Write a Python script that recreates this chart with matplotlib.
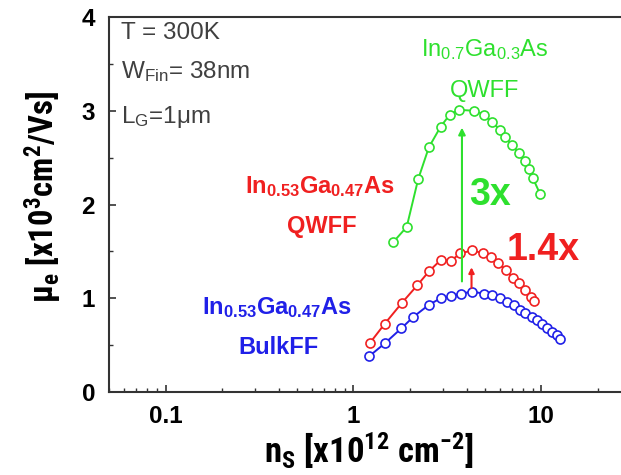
import matplotlib
matplotlib.use("Agg")
import matplotlib.pyplot as plt
from matplotlib import font_manager as fm
import numpy as np

names = {f.name for f in fm.fontManager.ttflist}
FONT = 'Liberation Sans'
COND = 'Roboto Condensed' if 'Roboto Condensed' in names else FONT
plt.rcParams['font.family'] = [FONT, 'DejaVu Sans']
plt.rcParams['mathtext.fontset'] = 'custom'
plt.rcParams['mathtext.default'] = 'regular'
plt.rcParams['mathtext.rm'] = FONT
plt.rcParams['mathtext.it'] = FONT + ':italic'
plt.rcParams['mathtext.bf'] = FONT + ':bold'

# ---- data ----
green_ns = [1.63, 1.92, 2.21, 2.52, 2.91, 3.26, 3.64, 4.37, 4.98, 5.47, 6.0, 6.44, 6.98, 7.57, 8.15, 8.56, 9.02, 9.86]
green_mu = [1.60, 1.76, 2.27, 2.61, 2.83, 2.96, 3.01, 3.00, 2.96, 2.88, 2.80, 2.72, 2.63, 2.55, 2.46, 2.38, 2.28, 2.11]

red_ns = [1.22, 1.47, 1.81, 2.19, 2.53, 2.92, 3.30, 3.71, 4.30, 4.90, 5.40, 5.90, 6.45, 7.05, 7.60, 8.20, 8.85, 9.10]
red_mu = [0.52, 0.73, 0.95, 1.14, 1.29, 1.41, 1.40, 1.48, 1.51, 1.48, 1.44, 1.38, 1.30, 1.22, 1.16, 1.09, 1.01, 0.97]

blue_ns = [1.21, 1.47, 1.80, 2.08, 2.52, 2.91, 3.29, 3.72, 4.29, 4.94, 5.47, 6.05, 6.57, 7.12, 7.66, 8.22, 8.91, 9.48, 10.07, 10.7, 11.4, 12.1, 12.6]
blue_mu = [0.38, 0.52, 0.68, 0.80, 0.93, 1.00, 1.02, 1.05, 1.07, 1.05, 1.03, 1.00, 0.96, 0.93, 0.88, 0.84, 0.80, 0.77, 0.73, 0.68, 0.64, 0.61, 0.57]

x_ticks = [0.1, 1, 10]
x_ticklabels = ['0.1', '1', '10']
y_ticks = [0, 1, 2, 3, 4]

GREEN = '#2ee02e'
RED = '#f02020'
BLUE = '#2020e8'
GRAY = '#404040'

fig = plt.figure(figsize=(6.21, 4.75), dpi=100)
ax = fig.add_axes([0.1755, 0.1747, 0.8406, 0.7895])

for xs, ys, c in [(blue_ns, blue_mu, BLUE), (red_ns, red_mu, RED), (green_ns, green_mu, GREEN)]:
    ax.plot(xs, ys, '-', color=c, lw=1.4, marker='o', ms=6.5, mfc='white', mec=c, mew=1.2)

ax.set_xscale('log')
ax.set_xlim(0.05, 30)
ax.set_ylim(0, 4)
ax.set_xticks(x_ticks)
ax.set_xticklabels(x_ticklabels)
ax.set_yticks(y_ticks)
ax.set_yticks(np.arange(0.5, 4, 1.0), minor=True)
ax.tick_params(which='both', direction='in', colors='#333333', labelcolor='black')
ax.tick_params(which='major', length=5, width=1.2, labelsize=17.5)
ax.tick_params(which='minor', length=3, width=1.0)
ax.tick_params(axis='x', pad=9)
ax.tick_params(axis='y', pad=10)
for lab in ax.get_xticklabels() + ax.get_yticklabels():
    lab.set_fontweight('bold')
for s in ax.spines.values():
    s.set_linewidth(1.5)
    s.set_color('#333333')

ax.set_ylabel('\u03bc$_e$ [x10$^3$cm$^2$/Vs]', fontsize=23.5, fontweight='bold', family=[COND, 'DejaVu Sans'])
ax.set_xlabel('n$_S$ [x10$^{12}$ cm$^{-2}$]', fontsize=25, fontweight='bold', family=[COND, 'DejaVu Sans'])
ax.yaxis.set_label_coords(-0.088, 0.521)
ax.xaxis.set_label_coords(0.498, -0.101)

# arrows
ax.annotate('', xy=(3.78, 2.85), xytext=(3.78, 1.15),
            arrowprops=dict(arrowstyle='-|>', color=GREEN, lw=1.5, mutation_scale=10))
ax.annotate('', xy=(4.25, 1.36), xytext=(4.25, 1.08),
            arrowprops=dict(arrowstyle='-|>', color=RED, lw=1.5, mutation_scale=8))

# labels
def ftext(px, py, s, **kw):
    fig.text(px / 621, 1 - py / 475, s, ha='center', va='center', **kw)

ftext(485, 50, 'In$_{0.7}$Ga$_{0.3}$As', color=GREEN, fontsize=17)
ftext(485, 91, 'QWFF', color=GREEN, fontsize=17)
ftext(490, 195, '3x', color=GREEN, fontsize=27, fontweight='bold')
ftext(543, 250, '1.4x', color=RED, fontsize=27, fontweight='bold')
ftext(320, 187, 'In$_{0.53}$Ga$_{0.47}$As', color=RED, fontsize=17, fontweight='bold')
ftext(322, 227, 'QWFF', color=RED, fontsize=17, fontweight='bold')
ftext(277, 308, 'In$_{0.53}$Ga$_{0.47}$As', color=BLUE, fontsize=17, fontweight='bold')
ftext(279, 348, 'BulkFF', color=BLUE, fontsize=17, fontweight='bold')

fig.text(121 / 621, 1 - 33 / 475, 'T = 300K', color=GRAY, fontsize=17.5, ha='left', va='center')
fig.text(121 / 621, 1 - 72 / 475, 'W$_{Fin}$= 38nm', color=GRAY, fontsize=17.5, ha='left', va='center')
fig.text(121 / 621, 1 - 117 / 475, 'L$_G$=1\u03bcm', color=GRAY, fontsize=17.5, ha='left', va='center')

fig.savefig('out.png', dpi=100)
